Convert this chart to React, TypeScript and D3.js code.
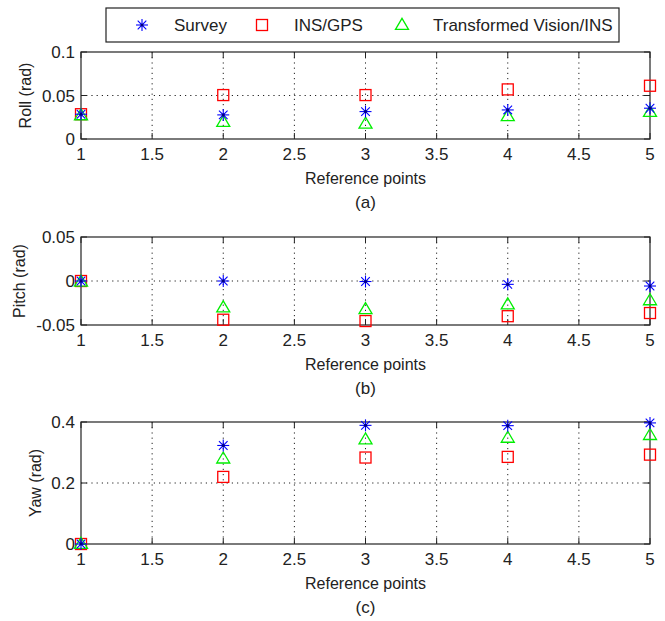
import React from "react";
import * as d3 from "d3";

const xPoints = [1, 2, 3, 4, 5];
const xTicks = [1, 1.5, 2, 2.5, 3, 3.5, 4, 4.5, 5];

const rollSurvey = [0.0285, 0.0277, 0.0315, 0.0334, 0.0354];
const rollInsGps = [0.0285, 0.0505, 0.0505, 0.057, 0.0612];
const rollVision = [0.0272, 0.0195, 0.0175, 0.0262, 0.0310];

const pitchSurvey = [0, 0, -0.0006, -0.0038, -0.0057];
const pitchInsGps = [0, -0.0440, -0.0455, -0.0400, -0.0364];
const pitchVision = [-0.0008, -0.0300, -0.0320, -0.0266, -0.0220];

const yawSurvey = [0, 0.323, 0.389, 0.388, 0.397];
const yawInsGps = [0, 0.220, 0.2835, 0.2856, 0.293];
const yawVision = [0, 0.280, 0.3425, 0.348, 0.357];

const rollTicks = [0, 0.05, 0.1];
const pitchTicks = [-0.05, 0, 0.05];
const yawTicks = [0, 0.2, 0.4];

const legendLabels = ["Survey", "INS/GPS", "Transformed Vision/INS"];

const FONT = "'Liberation Sans', Arial, Helvetica, sans-serif";
const LEFT = 81;
const RIGHT = 650;

const panels = [
  { top: 52, bottom: 139, domain: [0, 0.1], ticks: rollTicks, label: "Roll (rad)", labelX: 25, caption: "(a)", survey: rollSurvey, ins: rollInsGps, vision: rollVision },
  { top: 237, bottom: 325, domain: [-0.05, 0.05], ticks: pitchTicks, label: "Pitch (rad)", labelX: 19, caption: "(b)", survey: pitchSurvey, ins: pitchInsGps, vision: pitchVision },
  { top: 422, bottom: 544, domain: [0, 0.4], ticks: yawTicks, label: "Yaw (rad)", labelX: 35, caption: "(c)", survey: yawSurvey, ins: yawInsGps, vision: yawVision },
];

const BLUE = "#0000ff";
const RED = "#ff0000";
const GREEN = "#00ee00";

function Star({ x, y }: { x: number; y: number }) {
  const r = 6;
  const d = r * 0.72;
  return (
    <g stroke={BLUE} strokeWidth={1.1}>
      <line x1={x - r} y1={y} x2={x + r} y2={y} />
      <line x1={x} y1={y - r} x2={x} y2={y + r} />
      <line x1={x - d} y1={y - d} x2={x + d} y2={y + d} />
      <line x1={x - d} y1={y + d} x2={x + d} y2={y - d} />
      <circle cx={x} cy={y} r={1.6} fill="#000080" stroke="none" />
    </g>
  );
}

function Square({ x, y }: { x: number; y: number }) {
  const s = 11;
  return <rect x={x - s / 2} y={y - s / 2} width={s} height={s} fill="none" stroke={RED} strokeWidth={1.3} />;
}

function Triangle({ x, y }: { x: number; y: number }) {
  const h = 11;
  const w = 13;
  const p = `${x},${y - h * 0.6} ${x + w / 2},${y + h * 0.4} ${x - w / 2},${y + h * 0.4}`;
  return <polygon points={p} fill="none" stroke={GREEN} strokeWidth={1.3} />;
}

function Panel({ cfg }: { cfg: (typeof panels)[number] }) {
  const x = d3.scaleLinear().domain([1, 5]).range([LEFT, RIGHT]);
  const y = d3.scaleLinear().domain(cfg.domain).range([cfg.bottom, cfg.top]);
  const fmt = (v: number) => String(+v.toFixed(3));
  const tick = 6;
  const axisColor = "#222";
  const midY = (cfg.top + cfg.bottom) / 2;
  return (
    <g>
      {/* grid */}
      {xTicks.slice(1, -1).map((t) => (
        <line key={"gx" + t} x1={x(t)} x2={x(t)} y1={cfg.top} y2={cfg.bottom} stroke="#222" strokeWidth={1} strokeDasharray="1.2,4" />
      ))}
      {cfg.ticks
        .filter((t) => t !== cfg.domain[0] && t !== cfg.domain[1])
        .map((t) => (
          <line key={"gy" + t} x1={LEFT} x2={RIGHT} y1={y(t)} y2={y(t)} stroke="#222" strokeWidth={1} strokeDasharray="1.2,4" />
        ))}
      {/* ticks */}
      {xTicks.map((t) => (
        <g key={"tx" + t} stroke={axisColor} strokeWidth={1}>
          <line x1={x(t)} x2={x(t)} y1={cfg.bottom} y2={cfg.bottom - tick} />
          <line x1={x(t)} x2={x(t)} y1={cfg.top} y2={cfg.top + tick} />
        </g>
      ))}
      {cfg.ticks.map((t) => (
        <g key={"ty" + t} stroke={axisColor} strokeWidth={1}>
          <line x1={LEFT} x2={LEFT + tick} y1={y(t)} y2={y(t)} />
          <line x1={RIGHT} x2={RIGHT - tick} y1={y(t)} y2={y(t)} />
        </g>
      ))}
      <rect x={LEFT} y={cfg.top} width={RIGHT - LEFT} height={cfg.bottom - cfg.top} fill="none" stroke={axisColor} strokeWidth={1.2} />
      {/* tick labels */}
      {xTicks.map((t) => (
        <text key={"lx" + t} x={x(t)} y={cfg.bottom + 21} textAnchor="middle" fontSize={17} fontFamily={FONT} fill="#222">
          {fmt(t)}
        </text>
      ))}
      {cfg.ticks.map((t) => (
        <text key={"ly" + t} x={LEFT - 6} y={y(t) + 6} textAnchor="end" fontSize={17} fontFamily={FONT} fill="#222">
          {fmt(t)}
        </text>
      ))}
      <text x={(LEFT + RIGHT) / 2} y={cfg.bottom + 45} textAnchor="middle" fontSize={16} fontFamily={FONT} fill="#222">
        Reference points
      </text>
      <text x={(LEFT + RIGHT) / 2} y={cfg.bottom + 69} textAnchor="middle" fontSize={17} fontFamily={FONT} fill="#222">
        {cfg.caption}
      </text>
      <text transform={`translate(${cfg.labelX},${midY}) rotate(-90)`} textAnchor="middle" dy="0.35em" fontSize={16} fontFamily={FONT} fill="#222">
        {cfg.label}
      </text>
      {/* markers */}
      {xPoints.map((p, i) => (
        <Square key={"s" + i} x={x(p)} y={y(cfg.ins[i])} />
      ))}
      {xPoints.map((p, i) => (
        <Triangle key={"t" + i} x={x(p)} y={y(cfg.vision[i])} />
      ))}
      {xPoints.map((p, i) => (
        <Star key={"a" + i} x={x(p)} y={y(cfg.survey[i])} />
      ))}
    </g>
  );
}

export default function App() {
  const legendItems = [
    { mx: 142, tx: 174 },
    { mx: 262, tx: 294 },
    { mx: 402, tx: 433 },
  ];
  return (
    <div style={{ position: "absolute", left: 0, top: 0 }}>
      <svg width={665} height={621} style={{ display: "block", background: "#fff" }}>
        <rect x={0} y={0} width={665} height={621} fill="#fff" />
        <rect x={106} y={8} width={513} height={34} fill="#fff" stroke="#222" strokeWidth={1.2} />
        {legendItems.map((it, i) => (
          <g key={i}>
            {i === 0 && <Star x={it.mx} y={25} />}
            {i === 1 && <Square x={it.mx} y={25} />}
            {i === 2 && <Triangle x={it.mx} y={25} />}
            <text x={it.tx} y={31} fontSize={17} fontFamily={FONT} fill="#222">
              {legendLabels[i]}
            </text>
          </g>
        ))}
        {panels.map((p, i) => (
          <Panel key={i} cfg={p} />
        ))}
      </svg>
    </div>
  );
}
